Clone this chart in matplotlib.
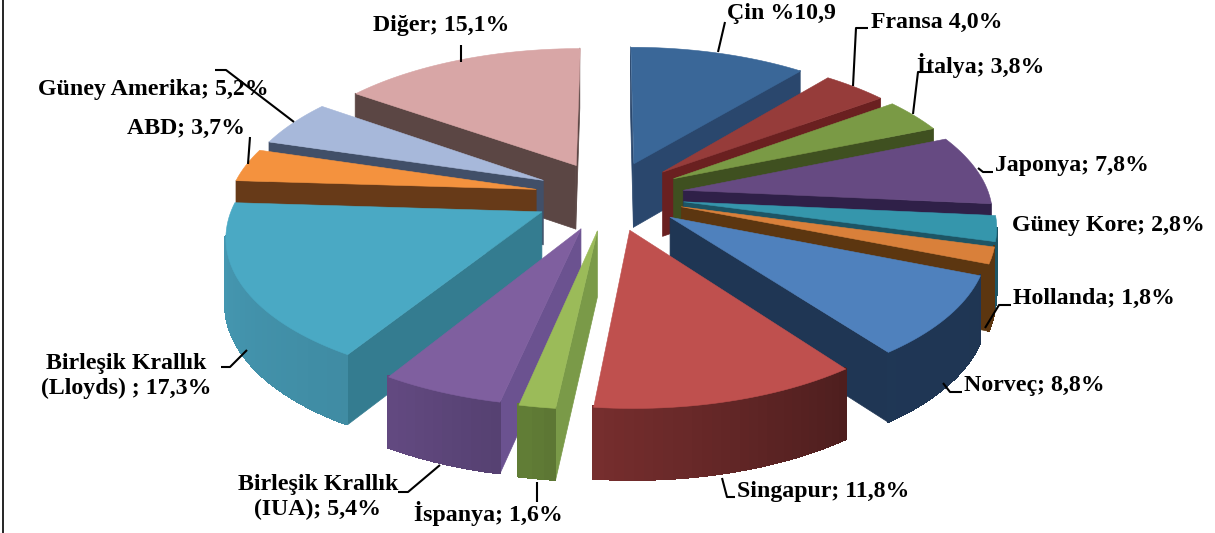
import numpy as np
import matplotlib
matplotlib.use("Agg")
import matplotlib.pyplot as plt
from matplotlib.collections import PolyCollection
from matplotlib.colors import to_rgb

# ---- data, clockwise from 12 o'clock
names = ["Çin %10,9", "Fransa 4,0%", "İtalya; 3,8%", "Japonya; 7,8%", "Güney Kore; 2,8%",
         "Hollanda; 1,8%", "Norveç; 8,8%", "Singapur; 11,8%", "İspanya; 1,6%",
         "Birleşik Krallık\n(IUA); 5,4%", "Birleşik Krallık\n(Lloyds) ; 17,3%",
         "ABD; 3,7%", "Güney Amerika; 5,2%", "Diğer; 15,1%"]
values = [10.9, 4.0, 3.8, 7.8, 2.8, 1.8, 8.8, 11.8, 1.6, 5.4, 17.3, 3.7, 5.2, 15.1]

# ---- styles
top_colors = ["#3a6798", "#963c3a", "#7a9a45", "#664a82", "#3596ac", "#d9803a", "#4f81bd",
              "#bf504e", "#9bbb59", "#7f5f9f", "#4aa9c4", "#f4923e", "#a7b8da", "#d8a6a6"]
rim_colors = ["#2a476d", "#6a2020", "#3f5020", "#2f2048", "#1d5565", "#5c3610", "#1f3654",
              "#622626", "#5f7a35", "#5c4579", "#4393ac", "#673a18", "#414f68", "#5b4644"]
wall_colors = ["#2a476d", "#6a2020", "#3f5020", "#2f2048", "#1d5565", "#5c3610", "#1f3654",
               "#622626", "#7a9a48", "#6b5290", "#347c90", "#673a18", "#414f68", "#5b4644"]
rim_gradient = [0, 0, 0, 0, 0, 0, 0.02, 0.4, 0.05, 0.12, 0.1, 0, 0, 0]

# label anchor: x, y, horizontal alignment
label_pos = [(727, 14, "left"), (871, 22, "left"), (917, 66, "left"), (995, 165, "left"),
             (1012, 226, "left"), (1013, 298, "left"), (964, 386, "left"), (737, 492, "left"),
             (414, 514, "left"), (318, 497, "center"), (126, 376, "center"),
             (127, 128, "left"), (38, 89, "left"), (373, 25, "left")]
# leader lines
leaders = [[(725, 22), (718, 52)], [(868, 28), (856, 28), (853, 86)],
           [(930, 72), (918, 72), (913, 114)], [(993, 172), (983, 172), (978, 168)],
           [], [(1011, 305), (999, 305), (985, 328)], [(962, 392), (950, 392), (943, 383)],
           [(735, 497), (727, 497), (722, 478)], [(537, 482), (537, 502)],
           [(398, 492), (408, 492), (440, 465)], [(221, 367), (230, 367), (247, 350)],
           [(250, 137), (248, 164)], [(215, 70), (226, 70), (294, 122)],
           [(461, 45), (461, 62)]]

# ---- projection
CX, CY = 609, 195
R, EXPL, DEPTH = 306, 75, 65
KY, PERSP = 0.463, 2135


def project(X, Y, z=0.0):
    f = PERSP / (PERSP - Y)
    return CX + X * f, CY + Y * KY * f + z * np.sqrt(f)


def shade(col, k):
    return tuple(min(1, c * k) for c in to_rgb(col))


def signed_area(q):
    q = np.asarray(q)
    x, y = q[:, 0], q[:, 1]
    return 0.5 * np.sum(x * np.roll(y, -1) - np.roll(x, -1) * y)


fig = plt.figure(figsize=(12.15, 5.33), dpi=100)
ax = fig.add_axes([0, 0, 1, 1])
ax.set_xlim(0, 1215)
ax.set_ylim(533, 0)
ax.axis("off")

vals = np.array(values)
edges = np.concatenate([[0], np.cumsum(vals)]) / vals.sum() * 2 * np.pi
mids = 0.5 * (edges[:-1] + edges[1:])
order = np.argsort(-np.cos(mids))

for z_i, i in enumerate(order):
    a0, a1, am = edges[i], edges[i + 1], mids[i]
    ox, oy = EXPL * np.sin(am), -EXPL * np.cos(am)
    ts = np.linspace(a0, a1, max(4, int((a1 - a0) * 40)))
    xs = ox + R * np.sin(ts)
    ys = oy - R * np.cos(ts)
    apex_t = project(ox, oy)
    apex_b = project(ox, oy, DEPTH)
    rim_t = [project(x, y) for x, y in zip(xs, ys)]
    rim_b = [project(x, y, DEPTH) for x, y in zip(xs, ys)]

    # radial walls
    walls = [q for q in ([apex_t, rim_t[0], rim_b[0], apex_b],
                         [rim_t[-1], apex_t, apex_b, rim_b[-1]]) if signed_area(q) < 0]
    if walls:
        ax.add_collection(PolyCollection(walls, facecolors=[wall_colors[i]],
                                         edgecolors=[wall_colors[i]], linewidths=0.5,
                                         zorder=2 + z_i))
    # outer rim, shaded across the slice
    faces, cols = [], []
    for j in range(len(ts) - 1):
        q = [rim_t[j], rim_t[j + 1], rim_b[j + 1], rim_b[j]]
        if signed_area(q) < 0:
            faces.append(q)
            frac = j / max(1, len(ts) - 2)
            cols.append(shade(rim_colors[i], 1 + rim_gradient[i] * (frac - 0.5)))
    if faces:
        ax.add_collection(PolyCollection(faces, facecolors=cols, edgecolors=cols,
                                         linewidths=1.2, antialiaseds=False,
                                         zorder=2 + z_i + 0.2))
    ax.add_collection(PolyCollection([[apex_t] + rim_t], facecolors=[top_colors[i]],
                                     edgecolors=[top_colors[i]], linewidths=0.4,
                                     zorder=2 + z_i + 0.5))

for name, (x, y, ha), pts in zip(names, label_pos, leaders):
    ax.text(x, y, name, ha=ha, va="center", family="Liberation Serif", weight="bold",
            fontsize=17.2, color="black", linespacing=1.28, zorder=60)
    if pts:
        p = np.array(pts)
        ax.plot(p[:, 0], p[:, 1], color="black", lw=1.5, zorder=61, solid_capstyle="butt")

# left frame edge
ax.axvline(3, color="black", lw=1.2, zorder=70)

fig.savefig("out.png", dpi=100)
